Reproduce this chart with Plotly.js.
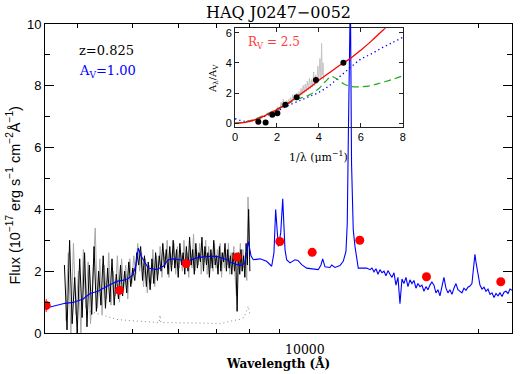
<!DOCTYPE html>
<html><head><meta charset="utf-8">
<script src="https://cdn.plot.ly/plotly-3.0.1.min.js"></script>
<style>body{margin:0;padding:0;background:#fff}#c{width:523px;height:374px}</style>
</head><body><div id="c"></div>
<script>
// ---- template (reddened composite) ----
const tmplWave = [3515,3614,3733,3809,3933,4096,4213,4350,4508,4691,4885,5004,5064,5110,5166,5214,5320,5502,5650,5765,5882,6042,6208,6462,6727,7002,7292,7437,7687,7843,7950,8036,8111,8330,8557,8731,8812,8872,8920,8967,9054,9127,9211,9272,9396,9587,9703,9849,10048,10252,10527,10641,10715,10814,11033,11110,11257,11485,11637,11764,11826,11880,11930,11975,12030,12114,12198,12281,12360,12527,12784,
12955,13059,13165,13271,13378,13486,13594,13704,13814,13925,14037,14150,14264,14379,14495,14612,14729,14848,14968,15088,15210,15332,15456,15580,15706,15832,15959,16088,16218,16348,16480,16613,16747,16882,17018,17155,17293,17433,17573,17715,17858,18002,18147,18293,18440,18589,18739,18890,19042,19195,19350,19506,19663,19742,19822,19982,20143,20310,20474,20639,20805,20973,21142,21312,21484,21657,21832,22008,22185,22364,22544,22726,22909];
const tmplFlux = [0.80,0.86,0.92,0.96,0.99,1.10,1.28,1.35,1.51,1.67,1.73,1.89,2.20,2.75,2.50,2.37,2.10,2.05,2.16,2.37,2.40,2.37,2.32,2.43,2.48,2.48,2.37,2.27,2.18,2.27,2.97,2.50,2.37,2.40,2.32,2.16,2.60,4.00,3.20,2.80,3.24,4.34,2.70,2.37,2.27,2.37,2.35,2.21,2.10,2.07,2.05,2.20,2.40,2.14,2.12,2.20,2.12,2.18,2.32,2.64,3.56,6.5,11,11,5.5,3.34,2.80,2.48,2.10,2.10,2.10,
2.05,2.10,1.98,2.08,1.90,2.05,1.95,2.00,1.85,2.02,1.90,1.80,1.95,1.55,1.80,0.95,1.75,1.60,1.80,1.50,1.72,1.60,1.70,1.45,1.60,1.50,1.55,1.35,1.50,1.40,1.55,1.65,1.55,1.30,1.40,1.20,1.50,1.80,1.45,1.30,1.40,1.25,1.45,1.60,1.40,1.35,1.30,1.45,1.38,1.48,1.52,1.60,2.20,2.55,2.30,1.85,1.55,1.42,1.48,1.35,1.42,1.25,1.30,1.15,1.28,1.20,1.30,1.18,1.32,1.35,1.28,1.42,1.38];

// ---- observed spectrum ----
const obsWave = [3800,3840,3880,3920,3960,4000,4040,4080,4120,4160,4200,4240,4280,4320,4360,4400,4440,4480,4520,4560,4600,4640,4680,4720,4760,4800,4840,4880,4920,4960,5000,5040,5080,5120,5160,5200,5240,5280,5320,5360,5400,5440,5480,5520,5560,5600,5640,5680,5720,5760,5800,5840,5880,5920,5960,6000,6040,6080,6120,6160,6200,6240,6280,6320,6360,6400,6440,6480,6520,6560,6600,6640,6680,6720,6760,6800,6840,6880,6920,6960,7000,7040,7080,7120,7160,7200,7240,7280,7320,7360,7400,7440,7480,7520,7560,7600,7640,7680,7720,7760,7800,7840,7880,7920,7960,8000];
const obsFlux = [2.2,0.1,3.0,0.3,1.8,0.0,2.4,0.5,2.6,0.2,2.2,0.6,2.8,0.7,2.0,0.9,2.5,0.8,2.1,1.0,2.4,0.9,1.9,1.1,2.2,1.2,2.0,1.3,2.3,1.5,2.1,1.7,2.6,2.2,2.8,1.7,2.5,1.5,2.3,1.4,2.4,1.6,2.6,1.7,2.5,2.0,2.9,2.1,2.7,1.9,2.8,2.0,3.0,2.1,2.7,1.8,2.9,2.2,2.6,1.9,2.8,2.0,3.1,2.2,2.7,1.9,2.9,2.1,2.6,2.3,3.1,2.0,2.8,2.2,2.6,1.8,2.7,2.1,3.0,2.2,2.5,1.9,2.8,2.0,2.6,2.3,2.9,2.0,2.7,2.1,2.5,1.9,2.6,2.0,2.4,0.7,2.6,1.9,2.7,2.0,2.5,1.8,2.9,2.2,4.0,2.0];
const rawWave = [3820,3860,3900,3940,3980,4020,4060,4100,4140,4180,4220,4260,4300,4340,4380,4420,4460,4500,4540,4580,4620,4660,4700,4740,4780,4820,4860,4900,4940,4980,5020,5060,5100,5140,5180,5220,5260,5300,5340,5380,5420,5460,5500,5540,5580,5620,5660,5700,5740,5780,5820,5860,5900,5940,5980,6020,6060,6100,6140,6180,6220,6260,6300,6340,6380,6420,6460,6500,6540,6580,6620,6660,6700,6740,6780,6820,6860,6900,6940,6980,7020,7060,7100,7140,7180,7220,7260,7300,7340,7380,7420,7460,7500,7540,7580,7620,7660,7700,7740,7780,7820,7860,7900,7940,7980];
const rawFlux = [0.4,2.6,0.0,2.9,0.6,2.0,0.0,2.7,0.8,2.3,0.3,1.9,3.4,0.8,2.4,0.6,2.2,1.1,2.6,0.9,2.0,1.2,2.5,1.0,2.4,1.4,2.2,1.1,2.4,1.6,2.5,1.9,2.9,2.0,2.6,1.5,2.4,1.3,2.2,1.6,2.7,1.5,2.5,1.9,2.8,1.8,2.6,2.2,3.0,1.8,2.6,2.2,2.9,1.9,2.8,2.1,2.6,2.0,3.0,2.2,2.6,1.8,2.8,2.1,3.2,2.0,2.7,2.2,2.9,1.9,2.7,2.3,3.0,1.9,2.8,2.1,2.6,2.0,2.9,2.1,2.7,2.2,2.9,1.8,2.6,2.1,2.7,2.2,2.9,1.9,2.6,2.2,2.8,1.8,1.2,2.5,2.2,2.9,2.0,2.7,2.1,2.6,1.7,4.4,3.0];
const errWave = [4213,4325,4504,4687,4943,5148,5357,5560,5577,5595,5882,6293,6727,7094,7292,7474,7687,7813,7950,8000];
const errFlux = [0.70,0.64,0.54,0.44,0.40,0.38,0.36,0.34,0.58,0.34,0.33,0.33,0.32,0.30,0.36,0.40,0.44,0.50,0.87,0.60];

// ---- photometry ----
const photWave = [3532,4739,6195,7603,9020,10273,12434,16252,21900];
const photFlux = [0.89,1.38,2.25,2.46,2.96,2.61,3.00,1.82,1.66];
const photErr  = [0.21,0.08,0.05,0.05,0.06,0.06,0.07,0.05,0.06];
const xTickVals = [10000];
const xTickText = ['10000'];
const xMinorVals = [4000,5000,6000,7000,8000,9000,20000];

// ---- inset: extinction curves ----
const redX = [0,0.5,1,1.5,2,2.5,3,3.5,4,4.5,5,5.5,6,6.5,7,7.2];
const redY = [0,0.05,0.25,0.55,0.9,1.3,1.8,2.3,2.85,3.35,3.85,4.3,4.85,5.45,6.1,6.35];
const blueX = [0,0.5,1,1.5,2,2.5,3,3.5,4,4.5,5,5.5,6,6.5,7,7.5,8];
const blueY = [0.3,0.12,0.25,0.5,0.8,1.15,1.45,1.75,2.05,2.5,3.1,3.7,4.25,4.6,5.0,5.35,5.7];
const greenX = [0,0.5,1,1.5,2,2.5,3,3.5,4,4.3,4.6,4.9,5.2,5.5,6,6.5,7,7.5,8];
const greenY = [0,0.1,0.3,0.6,0.95,1.3,1.6,1.85,2.3,2.75,3.1,2.9,2.6,2.45,2.42,2.5,2.7,2.9,3.15];
const ptsX = [1.11,1.46,1.78,2.02,2.40,2.94,3.86,5.17];
const ptsY = [0.10,0.05,0.56,0.67,1.22,1.73,2.87,4.01];
const grayX = [2.00,2.05,2.10,2.15,2.20,2.25,2.30,2.35,2.40,2.45,2.50,2.55,2.60,2.65,2.70,2.75,2.80,2.85,2.90,2.95,3.00,3.05,3.10,3.15,3.20,3.25,3.30,3.35,3.40,3.45,3.50,3.55,3.60,3.65,3.70,3.75,3.80,3.85,3.90,3.95,4.00,4.05,4.10,4.13,4.16,4.20,4.22];
const grayY = [0.9,1.1,0.8,1.0,1.4,1.0,1.6,1.2,1.3,1.5,1.2,1.6,1.3,1.7,1.4,1.9,1.5,1.8,1.6,2.0,1.7,2.1,1.8,2.3,1.9,2.5,2.0,2.6,2.1,2.8,2.2,3.0,2.3,2.9,2.4,3.4,2.5,3.2,2.6,3.8,2.8,4.3,3.0,5.3,3.2,4.0,2.9];

const xr = [Math.log10(3515), Math.log10(22909)];

const traces = [
 {x: rawWave, y: rawFlux, type:'scatter', mode:'lines', line:{color:'#a8a8a8', width:1}, xaxis:'x', yaxis:'y', hoverinfo:'skip'},
 {x: obsWave, y: obsFlux, type:'scatter', mode:'lines', line:{color:'#000000', width:1}, xaxis:'x', yaxis:'y', hoverinfo:'skip'},
 {x: errWave, y: errFlux, type:'scatter', mode:'lines', line:{color:'#8a8a8a', width:1, dash:'1px,3px'}, xaxis:'x', yaxis:'y'},
 {x: tmplWave, y: tmplFlux, type:'scatter', mode:'lines', line:{color:'#0000ff', width:1.1}, xaxis:'x', yaxis:'y'},
 {x: photWave, y: photFlux, type:'scatter', mode:'markers', marker:{color:'#ff0000', size:9},
  error_y:{type:'data', array: photErr, color:'#ff0000', thickness:1, width:0}, xaxis:'x', yaxis:'y'},
 {x: grayX, y: grayY, type:'scatter', mode:'lines', line:{color:'#c4c4c4', width:1}, xaxis:'x2', yaxis:'y2'},
 {x: blueX, y: blueY, type:'scatter', mode:'lines', line:{color:'#0000ff', width:1.3, dash:'1.3px,3px', shape:'spline'}, xaxis:'x2', yaxis:'y2'},
 {x: greenX, y: greenY, type:'scatter', mode:'lines', line:{color:'#22aa22', width:1.2, dash:'7px,4px', shape:'spline'}, xaxis:'x2', yaxis:'y2'},
 {x: redX, y: redY, type:'scatter', mode:'lines', line:{color:'#ff0000', width:1.3, shape:'spline'}, xaxis:'x2', yaxis:'y2'},
 {x: ptsX, y: ptsY, type:'scatter', mode:'markers', marker:{color:'#000000', size:6}, xaxis:'x2', yaxis:'y2'}
];

const layout = {
 width:523, height:374, showlegend:false,
 margin:{l:45, r:11, t:24, b:41},
 paper_bgcolor:'#fff', plot_bgcolor:'rgba(0,0,0,0)',
 title:{text:'HAQ J0247\u22120052', font:{family:'DejaVu Serif', size:16, color:'#000'}, x:0.5, xref:'paper', y:0.968, yanchor:'middle'},
 xaxis:{type:'log', range:xr, showline:true, mirror:'allticks', linecolor:'#000', linewidth:1,
   ticks:'inside', ticklen:4, tickcolor:'#000', tickmode:'array', tickvals:xMinorVals, showticklabels:false, showgrid:false, zeroline:false},
 xaxis3:{type:'log', range:xr, overlaying:'x', anchor:'y', side:'bottom', showline:false, mirror:'ticks',
   ticks:'inside', ticklen:9, tickcolor:'#000', tickmode:'array', tickvals:xTickVals, showticklabels:false, showgrid:false, zeroline:false},
 yaxis:{range:[0,10], showline:true, mirror:'allticks', linecolor:'#000', linewidth:1,
   ticks:'inside', ticklen:9, tickcolor:'#000', tickvals:[0,2,4,6,8,10], showgrid:false, zeroline:false,
   tickfont:{family:'Liberation Sans', size:13, color:'#000'},
   minor:{tickvals:[1,3,5,7,9], ticks:'inside', ticklen:5, tickcolor:'#000', showgrid:false}},
 xaxis2:{domain:[0.4069,0.766], anchor:'y2', range:[0,8], showline:true, mirror:'allticks', linecolor:'#222', linewidth:1,
   ticks:'inside', ticklen:4, tickcolor:'#222', tickvals:[0,2,4,6,8], showgrid:false, zeroline:false,
   tickfont:{family:'Liberation Sans', size:11, color:'#000'}},
 yaxis2:{domain:[0.6667,0.986], anchor:'x2', range:[-0.25,6.3], showline:true, mirror:'allticks', linecolor:'#222', linewidth:1,
   ticks:'inside', ticklen:4, tickcolor:'#222', tickvals:[0,2,4,6], showgrid:false, zeroline:false,
   tickfont:{family:'Liberation Sans', size:11, color:'#000'}},
 annotations:[
  {text:xTickText[0], xref:'x', yref:'paper', x:Math.log10(xTickVals[0]), y:-0.055, xanchor:'center', yanchor:'middle', showarrow:false, font:{family:'DejaVu Serif', size:12.5, color:'#000'}},
  {text:'z=0.825', xref:'paper', yref:'paper', x:0.0685, y:0.9136, xanchor:'left', yanchor:'middle', showarrow:false, font:{family:'DejaVu Serif', size:13, color:'#000'}},
  {text:'A<sub>V</sub>=1.00', xref:'paper', yref:'paper', x:0.0685, y:0.8447, xanchor:'left', yanchor:'middle', showarrow:false, font:{family:'DejaVu Serif', size:13, color:'#0000ff'}},
  {text:'R<sub>V</sub> = 2.5', xref:'paper', yref:'paper', x:0.4304, y:0.9369, xanchor:'left', yanchor:'middle', showarrow:false, font:{family:'DejaVu Serif', size:12, color:'#ff3a3a'}},
  {text:'A<sub>\u03bb</sub>/A<sub>V</sub>', xref:'paper', yref:'paper', x:0.3597, y:0.8252, xanchor:'center', yanchor:'middle', textangle:-90, showarrow:false, font:{family:'DejaVu Serif', size:10, color:'#000'}},
  {text:'1/\u03bb (\u03bcm<sup>\u22121</sup>)', xref:'paper', yref:'paper', x:0.5867, y:0.5728, xanchor:'center', yanchor:'middle', showarrow:false, font:{family:'DejaVu Serif', size:11, color:'#000'}},
  {text:'Flux (10<sup>\u221217</sup> erg s<sup>\u22121</sup> cm<sup>\u22122</sup>\u00c5<sup>\u22121</sup>)', xref:'paper', yref:'paper', x:-0.0664, y:0.445, xanchor:'center', yanchor:'middle', textangle:-90, showarrow:false, font:{family:'Liberation Sans', size:14.5, color:'#000'}},
  {text:'<b>Wavelength (\u00c5)</b>', xref:'paper', yref:'paper', x:0.4989, y:-0.1003, xanchor:'center', yanchor:'middle', showarrow:false, font:{family:'DejaVu Serif', size:12, color:'#000'}}
 ]
};
Plotly.newPlot('c', traces, layout, {staticPlot:true, displayModeBar:false});
</script></body></html>
